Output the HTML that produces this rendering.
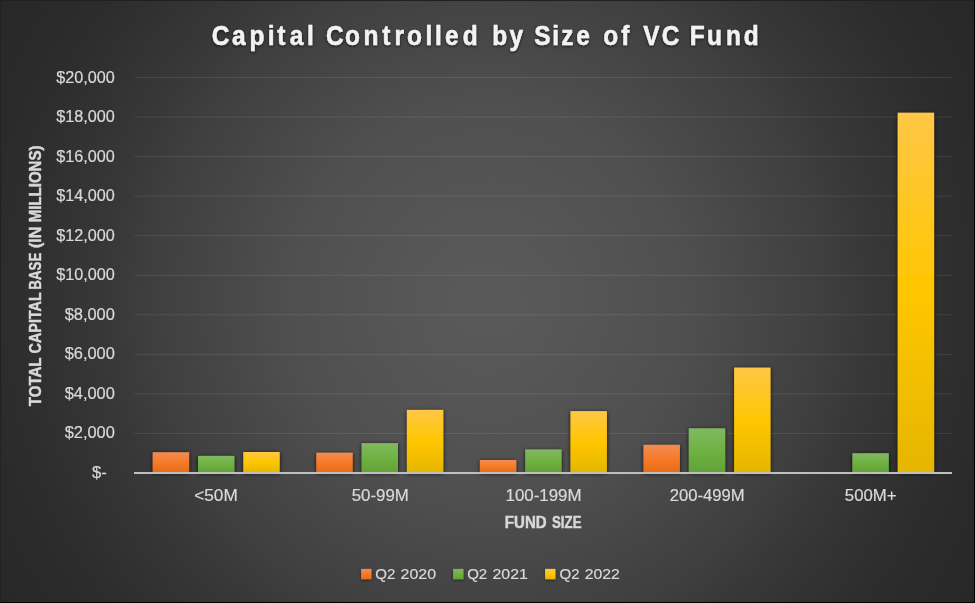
<!DOCTYPE html>
<html lang="en">
<head>
<meta charset="utf-8">
<title>Capital Controlled by Size of VC Fund</title>
<style>
html,body{margin:0;padding:0;background:#272727;}
body{width:975px;height:603px;overflow:hidden;}
svg{display:block;font-family:"Liberation Sans",sans-serif;}
.ax{font-size:16px;fill:#d9d9d9;stroke:#d9d9d9;stroke-width:0.2px;}
.lg{font-size:15.5px;fill:#d9d9d9;stroke:#d9d9d9;stroke-width:0.2px;}
.bt{font-size:15.8px;font-weight:bold;fill:#d9d9d9;stroke:#d9d9d9;stroke-width:0.45px;}
.ttl{font-size:27.2px;font-weight:bold;fill:#f2f2f2;stroke:#f2f2f2;stroke-width:0.5px;stroke-linejoin:round;}
</style>
</head>
<body>
<svg width="975" height="603" viewBox="0 0 975 603">
<defs>
<radialGradient id="bg" gradientUnits="userSpaceOnUse" cx="487.5" cy="301.5" r="573">
<stop offset="0.0000" stop-color="rgb(89,89,89)"/>
<stop offset="0.0873" stop-color="rgb(88,88,88)"/>
<stop offset="0.1745" stop-color="rgb(85,85,85)"/>
<stop offset="0.2618" stop-color="rgb(82,82,82)"/>
<stop offset="0.3490" stop-color="rgb(79,79,79)"/>
<stop offset="0.4363" stop-color="rgb(73,73,73)"/>
<stop offset="0.5079" stop-color="rgb(68,68,68)"/>
<stop offset="0.5864" stop-color="rgb(63,63,63)"/>
<stop offset="0.6632" stop-color="rgb(56,56,56)"/>
<stop offset="0.7400" stop-color="rgb(51,51,51)"/>
<stop offset="0.8168" stop-color="rgb(46,46,46)"/>
<stop offset="0.8551" stop-color="rgb(44,44,44)"/>
<stop offset="0.9075" stop-color="rgb(42,42,42)"/>
<stop offset="0.9581" stop-color="rgb(41,41,41)"/>
<stop offset="1.0000" stop-color="rgb(39,39,39)"/>
</radialGradient>
<linearGradient id="o" x1="0" y1="0" x2="0" y2="1">
<stop offset="0" stop-color="#f18c55"/><stop offset="0.5" stop-color="#f67b28"/><stop offset="1" stop-color="#e56b17"/>
</linearGradient>
<linearGradient id="g" x1="0" y1="0" x2="0" y2="1">
<stop offset="0" stop-color="#81b861"/><stop offset="0.5" stop-color="#6fb242"/><stop offset="1" stop-color="#61a235"/>
</linearGradient>
<linearGradient id="y" x1="0" y1="0" x2="0" y2="1">
<stop offset="0" stop-color="#ffc746"/><stop offset="0.5" stop-color="#ffc600"/><stop offset="1" stop-color="#e5b600"/>
</linearGradient>
<filter id="sh" x="-40%" y="-40%" width="180%" height="180%">
<feGaussianBlur in="SourceAlpha" stdDeviation="2"/>
<feOffset dx="0" dy="0.7"/>
<feComponentTransfer><feFuncA type="linear" slope="0.8"/></feComponentTransfer>
<feMerge><feMergeNode/><feMergeNode in="SourceGraphic"/></feMerge>
</filter>
<filter id="sh2" x="-40%" y="-40%" width="180%" height="180%">
<feGaussianBlur in="SourceAlpha" stdDeviation="1.6"/>
<feOffset dx="0" dy="0.8"/>
<feComponentTransfer><feFuncA type="linear" slope="0.5"/></feComponentTransfer>
<feMerge><feMergeNode/><feMergeNode in="SourceGraphic"/></feMerge>
</filter>
<filter id="tsh" x="-5%" y="-30%" width="110%" height="160%">
<feGaussianBlur in="SourceAlpha" stdDeviation="1.6"/>
<feOffset dx="0" dy="0.5"/>
<feComponentTransfer><feFuncA type="linear" slope="0.7"/></feComponentTransfer>
<feMerge><feMergeNode/><feMergeNode in="SourceGraphic"/></feMerge>
</filter>
</defs>
<rect x="0" y="0" width="975" height="603" fill="url(#bg)"/>
<g fill="#f2f2f2" fill-opacity="0.10">
<rect x="134.5" y="432.95" width="817.5" height="1"/>
<rect x="134.5" y="393.40" width="817.5" height="1"/>
<rect x="134.5" y="353.85" width="817.5" height="1"/>
<rect x="134.5" y="314.30" width="817.5" height="1"/>
<rect x="134.5" y="274.75" width="817.5" height="1"/>
<rect x="134.5" y="235.20" width="817.5" height="1"/>
<rect x="134.5" y="195.65" width="817.5" height="1"/>
<rect x="134.5" y="156.10" width="817.5" height="1"/>
<rect x="134.5" y="116.55" width="817.5" height="1"/>
<rect x="134.5" y="77.00" width="817.5" height="1"/>
</g>
<g>
<rect x="152.70" y="452.20" width="36.4" height="20.30" fill="url(#o)" filter="url(#sh)"/>
<rect x="198.00" y="455.90" width="36.4" height="16.60" fill="url(#g)" filter="url(#sh)"/>
<rect x="243.30" y="452.00" width="36.4" height="20.50" fill="url(#y)" filter="url(#sh)"/>
<rect x="316.30" y="452.70" width="36.4" height="19.80" fill="url(#o)" filter="url(#sh)"/>
<rect x="361.60" y="443.10" width="36.4" height="29.40" fill="url(#g)" filter="url(#sh)"/>
<rect x="406.90" y="409.90" width="36.4" height="62.60" fill="url(#y)" filter="url(#sh)"/>
<rect x="479.90" y="460.00" width="36.4" height="12.50" fill="url(#o)" filter="url(#sh)"/>
<rect x="525.20" y="449.40" width="36.4" height="23.10" fill="url(#g)" filter="url(#sh)"/>
<rect x="570.50" y="411.10" width="36.4" height="61.40" fill="url(#y)" filter="url(#sh)"/>
<rect x="643.50" y="444.80" width="36.4" height="27.70" fill="url(#o)" filter="url(#sh)"/>
<rect x="688.80" y="428.30" width="36.4" height="44.20" fill="url(#g)" filter="url(#sh)"/>
<rect x="734.10" y="367.60" width="36.4" height="104.90" fill="url(#y)" filter="url(#sh)"/>
<rect x="852.40" y="453.20" width="36.4" height="19.30" fill="url(#g)" filter="url(#sh)"/>
<rect x="897.70" y="112.70" width="36.4" height="359.80" fill="url(#y)" filter="url(#sh)"/>
</g>
<rect x="134.0" y="472" width="818.0" height="2" fill="#bfbfbf"/>
<text class="ax" y="478.20"><tspan x="91.96" textLength="14.74" lengthAdjust="spacingAndGlyphs">$-</tspan></text>
<text class="ax" y="438.14"><tspan x="64.66" textLength="50.22" lengthAdjust="spacingAndGlyphs">$2,000</tspan></text>
<text class="ax" y="398.68"><tspan x="64.66" textLength="50.22" lengthAdjust="spacingAndGlyphs">$4,000</tspan></text>
<text class="ax" y="359.22"><tspan x="64.66" textLength="50.22" lengthAdjust="spacingAndGlyphs">$6,000</tspan></text>
<text class="ax" y="319.76"><tspan x="64.66" textLength="50.22" lengthAdjust="spacingAndGlyphs">$8,000</tspan></text>
<text class="ax" y="280.30"><tspan x="56.17" textLength="58.61" lengthAdjust="spacingAndGlyphs">$10,000</tspan></text>
<text class="ax" y="240.84"><tspan x="56.17" textLength="58.61" lengthAdjust="spacingAndGlyphs">$12,000</tspan></text>
<text class="ax" y="201.38"><tspan x="56.17" textLength="58.61" lengthAdjust="spacingAndGlyphs">$14,000</tspan></text>
<text class="ax" y="161.92"><tspan x="56.17" textLength="58.61" lengthAdjust="spacingAndGlyphs">$16,000</tspan></text>
<text class="ax" y="122.46"><tspan x="56.17" textLength="58.61" lengthAdjust="spacingAndGlyphs">$18,000</tspan></text>
<text class="ax" y="83.00"><tspan x="56.17" textLength="58.61" lengthAdjust="spacingAndGlyphs">$20,000</tspan></text>
<text class="ax" y="501.20"><tspan x="194.21" textLength="43.53" lengthAdjust="spacingAndGlyphs">&lt;50M</tspan></text>
<text class="ax" y="501.20"><tspan x="351.78" textLength="57.03" lengthAdjust="spacingAndGlyphs">50-99M</tspan></text>
<text class="ax" y="501.20"><tspan x="505.50" textLength="76.06" lengthAdjust="spacingAndGlyphs">100-199M</tspan></text>
<text class="ax" y="501.20"><tspan x="669.72" textLength="74.93" lengthAdjust="spacingAndGlyphs">200-499M</tspan></text>
<text class="ax" y="501.20"><tspan x="844.88" textLength="51.70" lengthAdjust="spacingAndGlyphs">500M+</tspan></text>
<text class="bt" y="528.00"><tspan x="504.82" textLength="41.82" lengthAdjust="spacingAndGlyphs">FUND</tspan> <tspan x="552.01" textLength="29.49" lengthAdjust="spacingAndGlyphs">SIZE</tspan></text>
<text class="bt" transform="translate(40.90 0) rotate(-90)"><tspan x="-406.26" textLength="48.55" lengthAdjust="spacingAndGlyphs">TOTAL</tspan> <tspan x="-353.48" textLength="60.97" lengthAdjust="spacingAndGlyphs">CAPITAL</tspan> <tspan x="-289.66" textLength="36.93" lengthAdjust="spacingAndGlyphs">BASE</tspan> <tspan x="-248.08" textLength="21.39" lengthAdjust="spacingAndGlyphs">(IN</tspan> <tspan x="-222.37" textLength="76.90" lengthAdjust="spacingAndGlyphs">MILLIONS)</tspan></text>
<rect x="361.1" y="568.9" width="10.4" height="10.4" fill="url(#o)" filter="url(#sh2)"/>
<text class="lg" y="579.30"><tspan x="375.28" textLength="20.08" lengthAdjust="spacingAndGlyphs">Q2</tspan> <tspan x="400.55" textLength="35.54" lengthAdjust="spacingAndGlyphs">2020</tspan></text>
<rect x="453.1" y="568.9" width="10.4" height="10.4" fill="url(#g)" filter="url(#sh2)"/>
<text class="lg" y="579.30"><tspan x="467.18" textLength="20.08" lengthAdjust="spacingAndGlyphs">Q2</tspan> <tspan x="492.45" textLength="35.51" lengthAdjust="spacingAndGlyphs">2021</tspan></text>
<rect x="545.1" y="568.9" width="10.4" height="10.4" fill="url(#y)" filter="url(#sh2)"/>
<text class="lg" y="579.30"><tspan x="559.48" textLength="20.08" lengthAdjust="spacingAndGlyphs">Q2</tspan> <tspan x="584.65" textLength="35.21" lengthAdjust="spacingAndGlyphs">2022</tspan></text>
<g filter="url(#tsh)"><text class="ttl" transform="translate(0 44.6) scale(0.9 1)" x="235.22 257.72 277.22 297.61 308.11 321.89 341.22 352.33 362.11 383.44 403.94 424.61 438.44 452.22 472.89 483.28 494.44 514.06 525.17 546.89 566.22 577.33 593.61 613.61 623.61 640.17 651.28 670.39 690.17 701.28 714.61 735.17 746.28 766.44 785.61 806.78 826.28" y="0">Capital Controlled by Size of VC Fund</text></g>
<rect x="0" y="0" width="975" height="1" fill="#202020"/><rect x="0" y="0" width="1" height="603" fill="#222222"/>
<rect x="974" y="0" width="1" height="603" fill="#000"/><rect x="0" y="602" width="975" height="1" fill="#000"/>
</svg>
</body>
</html>
